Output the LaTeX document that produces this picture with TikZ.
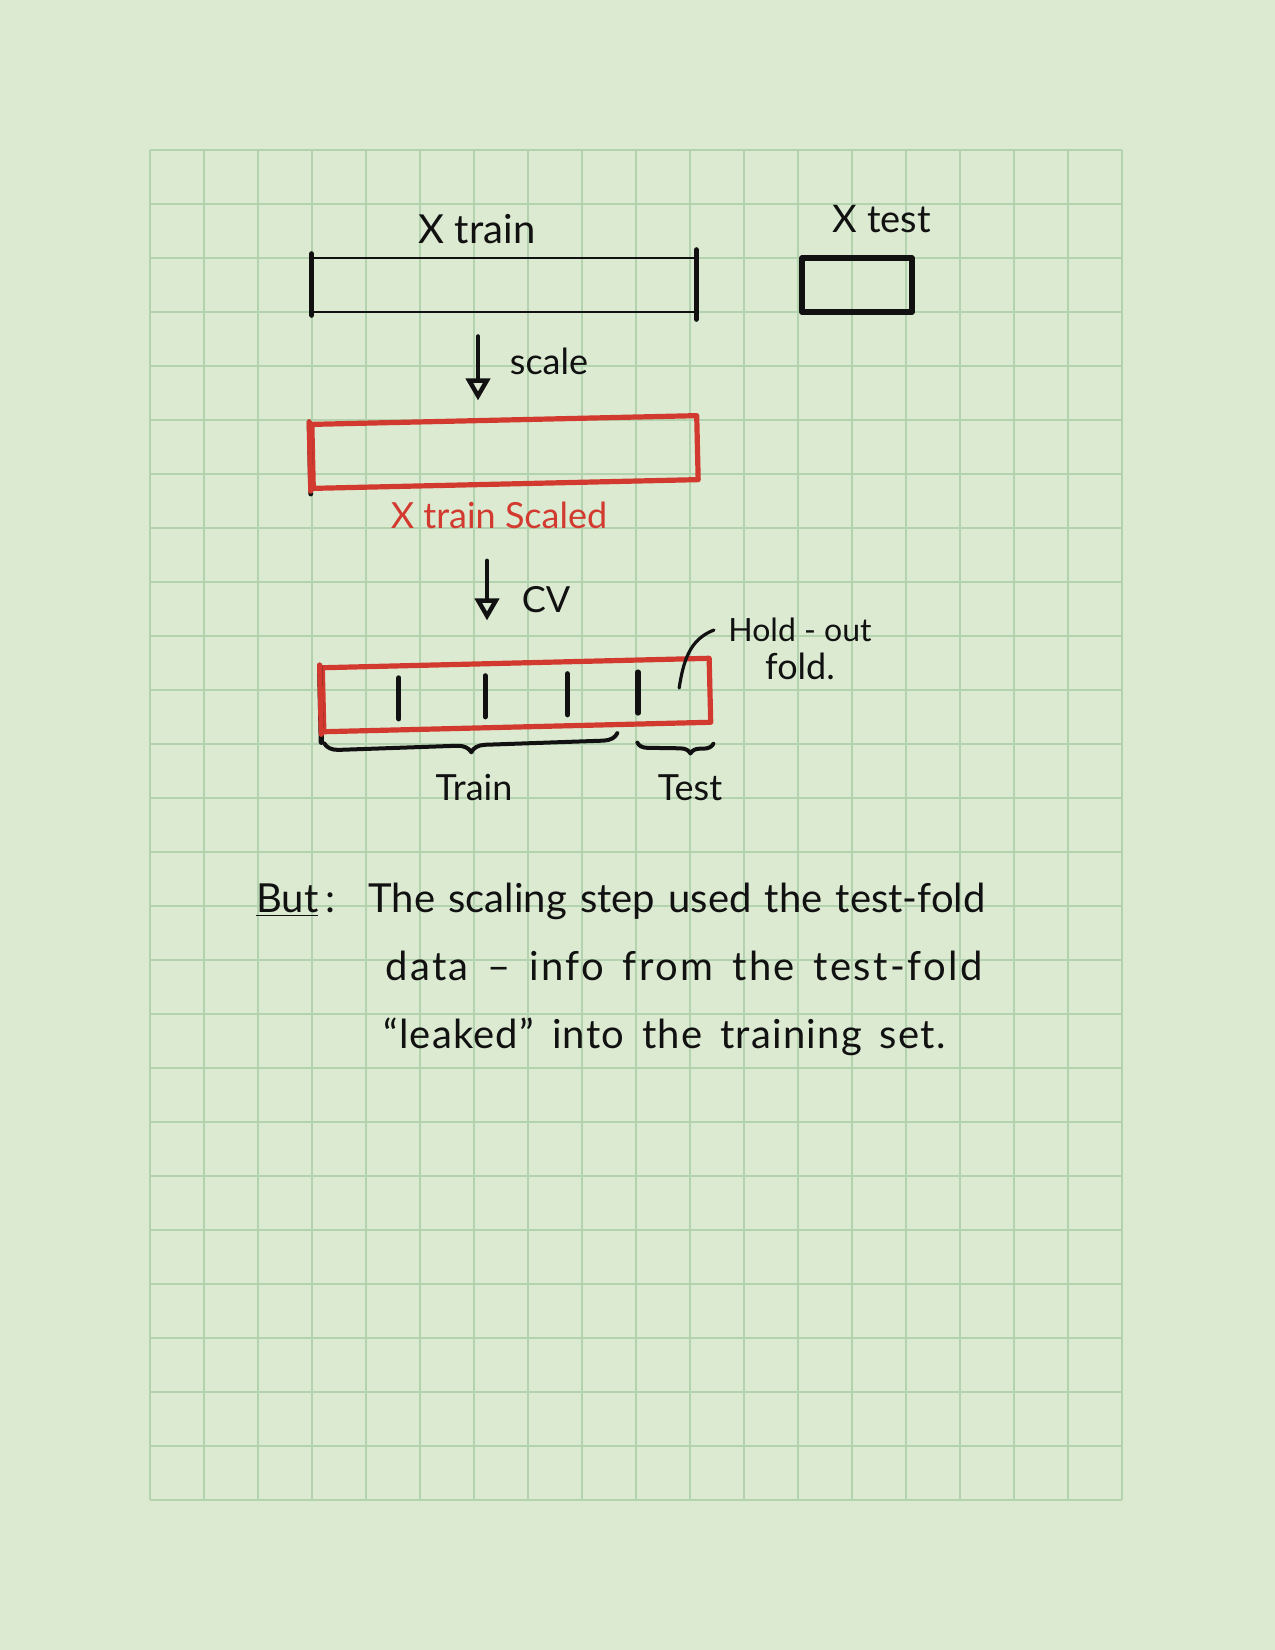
\documentclass[tikz,border=0pt]{standalone}
\usepackage{fontspec}
\setmainfont{Lato}
\usepackage{xcolor}
\usepackage{tikz}
\usetikzlibrary{calc,arrows.meta,positioning,decorations.pathreplacing}
\definecolor{paper}{HTML}{DCEAD2}
\definecolor{gridln}{HTML}{B2D3AE}
\definecolor{ink}{HTML}{111111}
\definecolor{marker}{HTML}{D33A2F}
\tikzset{
  pen/.style={draw=ink, line width=1.6pt, line cap=round, line join=round},
  redpen/.style={draw=marker, line width=2.6pt, line cap=round, line join=round},
  xbox/.style={pen, line width=1.4pt, minimum height=27pt, inner sep=0pt},
  redbox/.style={redpen, minimum height=32pt, inner sep=0pt},
  arr/.style={pen, line width=2.2pt, -{Triangle[open, length=11pt, width=12pt]}},
  foldtick/.style={pen, line width=2.6pt},
  curly/.style={pen, line width=2pt, decorate, decoration={brace, mirror, amplitude=#1}},
  curly/.default=7pt,
  lab/.style={text=ink, font=\fontsize{18}{22}\selectfont, inner sep=0pt},
  labr/.style={lab, text=marker},
  note/.style={lab, font=\fontsize{20}{24}\selectfont, anchor=base west},
}
\begin{document}
\begin{tikzpicture}[x=0.5pt, y=-0.5pt]
% paper and grid
\fill[paper] (0,0) rectangle (1275,1650);
\foreach \gx in {0,...,18}
  \draw[gridln, line width=1pt] (150+54*\gx,150) -- (150+54*\gx,1500);
\foreach \gy in {0,...,25}
  \draw[gridln, line width=1pt] (150,150+54*\gy) -- (1122,150+54*\gy);

% raw data
\node[xbox, minimum width=191pt] (xtrain) at (504,285) {};
\draw[pen, line width=2.4pt] ([yshift=1.5pt]xtrain.north west) -- ([yshift=-1pt]xtrain.south west);
\draw[pen, line width=2.4pt] ([yshift=3.5pt]xtrain.north east) -- ([yshift=-3pt]xtrain.south east);
\node[lab, font=\fontsize{20}{24}\selectfont] (xtrainlab) at (477,229) {X train};
\node[xbox, line width=2.6pt, minimum width=55pt] (xtest) at (857,285) {};
\node[lab, font=\fontsize{19}{23}\selectfont] (xtestlab) at (882,219) {X test};

% scaling
\coordinate (scaletop) at ([xshift=-13pt]xtrain.south);
\node[redbox, minimum width=192.5pt, rotate=1.3] (scaled) at (505,452) {};
\draw[pen, line width=2.4pt] (scaled.north west) -- ([yshift=-1.5pt]scaled.south west);
\draw[redpen] (scaled.north west) -- (scaled.south west);
\draw[arr, shorten <=11.5pt, shorten >=8.5pt] (scaletop) -- (scaletop |- scaled.north);
\node[lab] (scalelab) at (549,361) {scale};
\node[labr] (scaledlab) at (499,515) {X train Scaled};

% cross validation folds
\coordinate (cvx) at (487,0);
\node[redbox, minimum width=193.5pt, rotate=1.4] (folds) at (516.5,695) {};
\draw[foldtick] (folds.north west) -- ([yshift=-4pt]folds.south west);
\draw[redpen] (folds.north west) -- (folds.south west);
\foreach \t in {0.2,0.42,0.63,0.81}
  \draw[foldtick] ($(folds.west)!\t!(folds.east)+(0,-20)$) -- ($(folds.west)!\t!(folds.east)+(0,21)$);
\draw[arr, shorten <=16pt, shorten >=20pt] (scaledlab.south -| cvx) -- (folds.north -| cvx);
\node[lab] (cvlab) at (546,600) {CV};

% hold-out note
\coordinate (lastfold) at ($(folds.west)!0.915!(folds.east)+(0,-3)$);
\node[lab, font=\fontsize{16}{19}\selectfont] (holdlab) at (800,630) {Hold - out};
\node[lab, below=5pt of holdlab] (foldlab) {fold.};
\draw[pen] (lastfold) .. controls +(5,-35) and +(-20,8) .. ([xshift=-7pt]holdlab.west);

% braces
\coordinate (trainL) at ($(folds.south west)+(3,9)$);
\coordinate (trainR) at ($(folds.south west)!0.755!(folds.south east)+(0,6)$);
\coordinate (testL) at ($(folds.south west)!0.806!(folds.south east)+(0,16)$);
\coordinate (testR) at ($(folds.south west)!1.0!(folds.south east)+(0,19)$);
\draw[curly] (trainL) -- (trainR);
\draw[curly=5pt, decoration={aspect=0.7}] (testL) -- (testR);
\node[lab] (trainlab) at (474,788) {Train};
\node[lab] (testlab) at (690,788) {Test};

% remark
\node[note] (but) at (256,912) {\underline{But}\,:};
\node[note] (line1) at (368,912) {\makebox[308.5pt][s]{The scaling step used the test-fold}};
\node[note] (line2) at (385,980) {\makebox[298.5pt][s]{\addfontfeatures{LetterSpace=6}data – info from the test-fold}};
\node[note] (line3) at (383,1048) {\makebox[281pt][s]{\addfontfeatures{LetterSpace=3}“leaked” into the training set.}};
\end{tikzpicture}
\end{document}
